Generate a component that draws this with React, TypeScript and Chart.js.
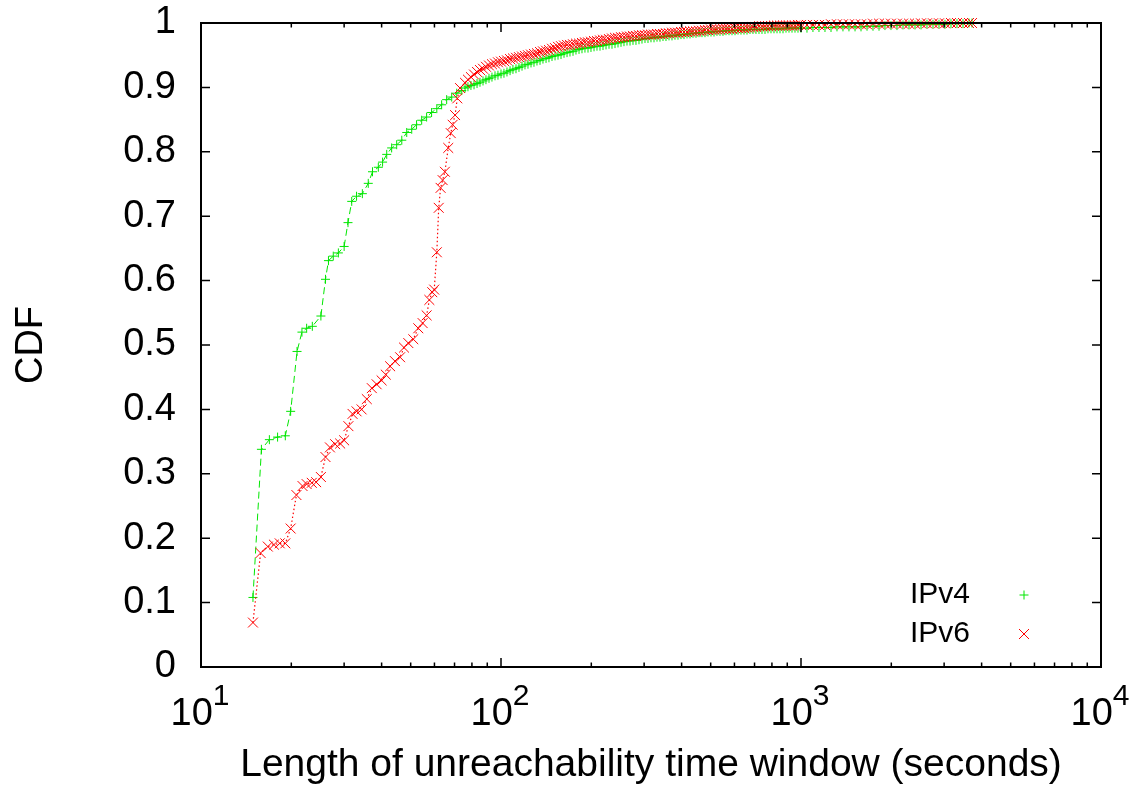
import React, { useEffect, useRef } from 'react';
import { Chart, registerables } from 'chart.js';

Chart.register(...registerables);

const FONT = '"Liberation Sans", Arial, Helvetica, sans-serif';

// ---- data ----
const seriesNames = ['IPv4', 'IPv6'];

const ipv4HeadX = [14.9, 15.9, 16.9, 18.0, 19.1, 19.9, 20.9, 21.7, 22.5, 23.5,
  25.1, 26.0, 26.6, 27.6, 28.7, 30.0, 30.9, 31.8, 33.0, 34.5,
  36.1, 37.3, 39.0, 40.3, 41.6, 43.2, 44.9, 46.7, 48.5, 50.4,
  52.3, 54.4, 56.5, 58.7, 61.1, 63.4, 65.9, 68.5, 71.2, 74.0];
const ipv4HeadY = [0.108, 0.338, 0.353, 0.357, 0.359, 0.397, 0.490, 0.520, 0.526, 0.529,
  0.545, 0.602, 0.631, 0.638, 0.643, 0.653, 0.690, 0.723, 0.731, 0.735,
  0.751, 0.769, 0.776, 0.784, 0.796, 0.806, 0.811, 0.818, 0.830, 0.835,
  0.842, 0.849, 0.854, 0.861, 0.867, 0.873, 0.881, 0.885, 0.891, 0.895];

const ipv6HeadX = [14.9, 15.8, 16.7, 17.5, 18.3, 19.1, 19.9, 20.8, 21.8, 22.5,
  23.4, 24.2, 25.1, 26.0, 26.9, 28.0, 29.1, 30.0, 31.0, 32.0,
  33.0, 34.3, 35.7, 37.1, 38.5, 40.0, 41.3, 42.7, 44.3, 46.1,
  47.5, 49.1, 51.0, 53.0, 54.8, 56.5, 57.7, 59.0, 59.9, 61.1,
  62.0, 62.9, 63.9, 65.0, 66.7, 68.0, 69.0, 70.3, 71.5, 73.0];
const ipv6HeadY = [0.069, 0.177, 0.187, 0.190, 0.192, 0.192, 0.215, 0.267, 0.281, 0.284,
  0.286, 0.287, 0.295, 0.326, 0.341, 0.346, 0.347, 0.352, 0.374, 0.393,
  0.397, 0.400, 0.416, 0.433, 0.439, 0.445, 0.454, 0.467, 0.475, 0.481,
  0.496, 0.503, 0.509, 0.526, 0.534, 0.546, 0.570, 0.582, 0.586, 0.644,
  0.713, 0.744, 0.756, 0.769, 0.806, 0.829, 0.842, 0.857, 0.883, 0.899];

// dense upper tail (seconds), shared by both series
const tailX = [75.9, 77.6, 79.4, 81.3, 83.2, 85.1, 87.1, 89.1, 91.2, 93.3,
  95.5, 97.7, 100, 102.3, 104.7, 107.2, 109.6, 112.2, 114.8, 117.5,
  120.2, 123.0, 125.9, 128.8, 131.8, 134.9, 138.0, 141.3, 144.5, 147.9,
  151.4, 154.9, 158.5, 162.2, 166.0, 169.8, 173.8, 177.8, 182.0, 186.2,
  190.5, 195.0, 199.5, 204.2, 208.9, 213.8, 218.8, 223.9, 229.1, 234.4,
  239.9, 245.5, 251.2, 257.0, 263.0, 269.2, 275.4, 281.8, 288.4, 295.1,
  302.0, 309.0, 316.2, 323.6, 331.1, 338.8, 346.7, 354.8, 363.1, 371.5,
  380.2, 389.0, 398.1, 407.4, 416.9, 426.6, 436.5, 446.7, 457.1, 467.7,
  478.6, 489.8, 501.2, 512.9, 524.8, 537.0, 549.5, 562.3, 575.4, 588.8,
  602.6, 616.6, 631.0, 645.7, 660.7, 676.1, 691.8, 707.9, 724.4, 741.3,
  758.6, 776.2, 794.3, 812.8, 831.8, 851.1, 871.0, 891.3, 912.0, 933.3,
  955.0, 977.2, 1000,
  1047, 1096, 1148, 1202, 1259, 1318, 1380, 1445, 1514, 1585,
  1660, 1738, 1820, 1905, 1995, 2089, 2188, 2291, 2399, 2512,
  2630, 2754, 2884, 3020, 3162, 3311, 3467, 3631, 3715];
const ipv4TailY = [0.899, 0.901, 0.903, 0.904, 0.906, 0.908, 0.910, 0.912, 0.914, 0.916,
  0.918, 0.919, 0.921, 0.922, 0.924, 0.926, 0.928, 0.929, 0.931, 0.933,
  0.935, 0.936, 0.938, 0.939, 0.941, 0.942, 0.944, 0.945, 0.946, 0.948,
  0.949, 0.950, 0.951, 0.953, 0.954, 0.955, 0.956, 0.958, 0.959, 0.960,
  0.961, 0.961, 0.962, 0.963, 0.964, 0.964, 0.965, 0.966, 0.967, 0.967,
  0.968, 0.969, 0.970, 0.971, 0.972, 0.972, 0.973, 0.973, 0.974, 0.975,
  0.976, 0.976, 0.977, 0.977, 0.978, 0.978, 0.979, 0.979, 0.980, 0.980,
  0.981, 0.981, 0.982, 0.982, 0.983, 0.983, 0.984, 0.984, 0.985, 0.985,
  0.985, 0.986, 0.986, 0.986, 0.987, 0.987, 0.987, 0.988, 0.988, 0.988,
  0.988, 0.989, 0.989, 0.989, 0.989, 0.990, 0.990, 0.990, 0.990, 0.990,
  0.990, 0.991, 0.991, 0.991, 0.991, 0.991, 0.991, 0.992, 0.992, 0.992,
  0.992, 0.992, 0.992,
  0.992, 0.993, 0.993, 0.993, 0.993, 0.994, 0.994, 0.994, 0.994, 0.994,
  0.995, 0.995, 0.995, 0.996, 0.996, 0.996, 0.997, 0.997, 0.997, 0.997,
  0.998, 0.998, 0.998, 0.998, 0.999, 0.999, 0.999, 1.0, 1.0];
const ipv6TailY = [0.907, 0.912, 0.916, 0.920, 0.924, 0.927, 0.929, 0.932, 0.934, 0.936,
  0.937, 0.939, 0.940, 0.941, 0.942, 0.944, 0.945, 0.946, 0.947, 0.948,
  0.949, 0.950, 0.951, 0.952, 0.953, 0.955, 0.956, 0.957, 0.958, 0.960,
  0.961, 0.963, 0.964, 0.965, 0.966, 0.966, 0.967, 0.968, 0.968, 0.969,
  0.970, 0.970, 0.971, 0.972, 0.972, 0.973, 0.974, 0.974, 0.975, 0.976,
  0.977, 0.977, 0.978, 0.978, 0.979, 0.979, 0.980, 0.980, 0.981, 0.981,
  0.981, 0.982, 0.982, 0.982, 0.983, 0.983, 0.983, 0.984, 0.984, 0.985,
  0.985, 0.985, 0.986, 0.986, 0.986, 0.987, 0.987, 0.987, 0.988, 0.988,
  0.989, 0.989, 0.990, 0.990, 0.990, 0.990, 0.991, 0.991, 0.991, 0.991,
  0.992, 0.992, 0.992, 0.992, 0.993, 0.993, 0.994, 0.994, 0.995, 0.995,
  0.995, 0.995, 0.995, 0.996, 0.996, 0.996, 0.996, 0.996, 0.996, 0.996,
  0.996, 0.997, 0.997,
  0.997, 0.997, 0.997, 0.997, 0.998, 0.998, 0.998, 0.998, 0.998, 0.998,
  0.998, 0.999, 0.999, 0.999, 0.999, 0.999, 0.999, 0.999, 0.999, 0.9995,
  0.9995, 0.9995, 0.9995, 0.9995, 1.0, 1.0, 1.0, 1.0, 1.0];

const yTicks = [0, 0.1, 0.2, 0.3, 0.4, 0.5, 0.6, 0.7, 0.8, 0.9, 1];
const xMajorTicks = [10, 100, 1000, 10000];
const xTickExponents = ['1', '2', '3', '4'];
const xMinorMultipliers = [2, 3, 4, 5, 6, 7, 8, 9];

const xTitle = 'Length of unreachability time window (seconds)';
const yTitle = 'CDF';

const GREEN = '#00e600';
const RED = '#ff0000';

const toPts = (xs: number[], ys: number[]) => xs.map((x, i) => ({ x, y: ys[i] }));

const framePlugin = {
  id: 'gnuFrame',
  afterDatasetsDraw(chart: any) {
    const { ctx, chartArea: a, scales } = chart;
    const xs = scales.x;
    const ys = scales.y;
    ctx.save();
    ctx.strokeStyle = '#000';
    ctx.lineWidth = 1.5;
    ctx.beginPath();
    for (const v of yTicks) {
      const py = ys.getPixelForValue(v);
      ctx.moveTo(a.left, py); ctx.lineTo(a.left + 9, py);
      ctx.moveTo(a.right, py); ctx.lineTo(a.right - 9, py);
    }
    for (let d = 0; d < xMajorTicks.length; d++) {
      const base = xMajorTicks[d];
      const px = xs.getPixelForValue(base);
      ctx.moveTo(px, a.bottom); ctx.lineTo(px, a.bottom - 9);
      ctx.moveTo(px, a.top); ctx.lineTo(px, a.top + 9);
      if (d < xMajorTicks.length - 1) {
        for (const m of xMinorMultipliers) {
          const pm = xs.getPixelForValue(base * m);
          ctx.moveTo(pm, a.bottom); ctx.lineTo(pm, a.bottom - 4.5);
          ctx.moveTo(pm, a.top); ctx.lineTo(pm, a.top + 4.5);
        }
      }
    }
    ctx.stroke();
    ctx.lineWidth = 2;
    ctx.strokeRect(a.left, a.top, a.right - a.left, a.bottom - a.top);

    // x tick labels 10^n
    ctx.fillStyle = '#000';
    ctx.textBaseline = 'alphabetic';
    ctx.textAlign = 'left';
    for (let i = 0; i < xMajorTicks.length; i++) {
      const px = xs.getPixelForValue(xMajorTicks[i]);
      ctx.font = `38px ${FONT}`;
      const w1 = ctx.measureText('10').width;
      ctx.font = `30px ${FONT}`;
      const w2 = ctx.measureText(xTickExponents[i]).width;
      const start = px - (w1 + w2) / 2 - 1;
      ctx.font = `38px ${FONT}`;
      ctx.fillText('10', start, 725);
      ctx.font = `30px ${FONT}`;
      ctx.fillText(xTickExponents[i], start + w1, 705);
    }

    // legend
    ctx.font = `30px ${FONT}`;
    ctx.textAlign = 'right';
    ctx.textBaseline = 'middle';
    ctx.fillText(seriesNames[0], 970, 595);
    ctx.fillText(seriesNames[1], 970, 634);
    ctx.lineWidth = 1;
    ctx.strokeStyle = GREEN;
    ctx.beginPath();
    ctx.moveTo(1019.5, 595); ctx.lineTo(1028.5, 595);
    ctx.moveTo(1024, 590.5); ctx.lineTo(1024, 599.5);
    ctx.stroke();
    ctx.strokeStyle = RED;
    ctx.beginPath();
    ctx.moveTo(1019, 629); ctx.lineTo(1029, 639);
    ctx.moveTo(1029, 629); ctx.lineTo(1019, 639);
    ctx.stroke();
    ctx.restore();
  },
};

export default function App() {
  const ref = useRef<HTMLCanvasElement>(null);
  useEffect(() => {
    if (!ref.current) return;
    Chart.defaults.font.family = FONT;
    const chart = new Chart(ref.current, {
      type: 'scatter',
      data: {
        datasets: [
          {
            label: seriesNames[0],
            data: [...toPts(ipv4HeadX, ipv4HeadY), ...toPts(tailX, ipv4TailY)],
            showLine: true,
            borderColor: GREEN,
            borderWidth: 1,
            borderDash: [7, 4],
            pointStyle: 'cross',
            pointRadius: 4.5,
            pointBorderWidth: 1,
            pointBorderColor: GREEN,
            pointBackgroundColor: GREEN,
            order: 2,
            clip: false,
          } as any,
          {
            label: seriesNames[1],
            data: [...toPts(ipv6HeadX, ipv6HeadY), ...toPts(tailX, ipv6TailY)],
            showLine: true,
            borderColor: RED,
            borderWidth: 1.2,
            borderDash: [1.5, 2.5],
            pointStyle: 'crossRot',
            pointRadius: 7,
            pointBorderWidth: 1,
            pointBorderColor: RED,
            pointBackgroundColor: RED,
            order: 1,
            clip: false,
          } as any,
        ],
      },
      options: {
        animation: false,
        responsive: false,
        devicePixelRatio: 1,
        layout: { padding: { left: 0, right: 34, top: 23, bottom: 0 } },
        plugins: {
          legend: { display: false },
          tooltip: { enabled: false },
        },
        scales: {
          x: {
            type: 'logarithmic',
            position: 'bottom',
            min: 10,
            max: 10000,
            grid: { display: false, drawTicks: false },
            border: { display: false },
            ticks: { display: false },
            title: {
              display: true,
              text: xTitle,
              color: '#000',
              font: { family: FONT, size: 39 },
              padding: { top: 0, bottom: 2 },
            },
            afterFit: (s: any) => {
              s.height = 124;
              s.paddingLeft = 0;
              s.paddingRight = 0;
            },
          },
          y: {
            type: 'linear',
            min: 0,
            max: 1,
            grid: { display: false, drawTicks: false },
            border: { display: false },
            afterBuildTicks: (s: any) => { s.ticks = yTicks.map((v) => ({ value: v })); },
            ticks: {
              color: '#000',
              font: { family: FONT, size: 38 },
              padding: 25,
              callback: (v: any) => {
                const r = Math.round(Number(v) * 10) / 10;
                return r === 0 ? '0' : r === 1 ? '1' : r.toFixed(1);
              },
            },
            title: {
              display: true,
              text: yTitle,
              color: '#000',
              font: { family: FONT, size: 38 },
              padding: { top: 9, bottom: 0 },
            },
            afterFit: (s: any) => {
              s.width = 201;
              s.paddingTop = 0;
              s.paddingBottom = 0;
            },
          },
        },
      },
      plugins: [framePlugin],
    } as any);
    return () => chart.destroy();
  }, []);
  return (
    <div style={{ position: 'absolute', left: 0, top: 0, width: 1135, height: 791, background: '#fff' }}>
      <canvas ref={ref} width={1135} height={791} style={{ display: 'block', width: 1135, height: 791 }} />
    </div>
  );
}
